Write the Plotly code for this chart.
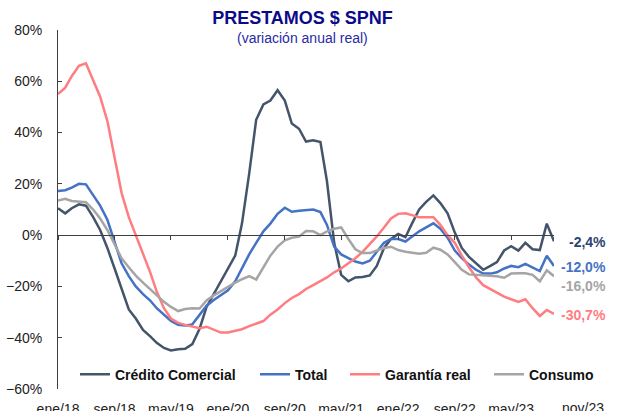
"""Prestamos $ SPNF: variacion anual real por tipo de credito."""

import pandas as pd
import plotly.graph_objects as go


WIDTH, HEIGHT = 623, 411
FONT = "Arial, Liberation Sans, sans-serif"
MARGIN = dict(l=58, r=69, t=30, b=22)

MONTHS = pd.date_range("2018-01-01", "2023-11-01", freq="MS")
TICK_LABELS = ["ene/18", "sep/18", "may/19", "ene/20", "sep/20",
               "may/21", "ene/22", "sep/22", "may/23"]
LAST_LABEL = "nov/23"

COMERCIAL = [10.5, 8.5, 10.5, 12, 11.5, 7, 2, -5, -13, -21,
             -29, -32.5, -37, -39.5, -42, -44, -45, -44.5, -44.3, -42.5,
             -36.5, -28, -23, -18, -13, -8, 4.5, 24, 45, 51,
             52.5, 56.5, 52.5, 43.5, 41.5, 36.5, 37, 36.3, 21, -3,
             -15.5, -18, -16.5, -16.3, -15.7, -12, -5, -1.5, 0.5, -0.8,
             4.5, 10, 13, 15.5, 12.5, 8.5, 1, -5, -8.5, -11,
             -13.5, -12, -10.5, -6, -4.3, -6, -3, -5.5, -5.8, 4.5,
             -2.4]
TOTAL = [17.2, 17.5, 18.5, 20, 19.8, 15.5, 11.5, 6, -3, -11,
         -16, -20, -23, -25.5, -28.5, -31, -33.5, -35, -35.2, -34.8,
         -31, -27.5, -25.3, -23.5, -21.5, -18, -13, -7.5, -3, 1.5,
         4.5, 8.3, 10.7, 9.1, 9.5, 9.8, 10, 9, 4, -4.5,
         -7.5, -9, -10.3, -11, -10, -6.5, -3, -1.5, -1.5, -2.5,
         -0.5, 1.5, 3, 4.6, 2.5, -1, -6, -9, -11.5, -13.5,
         -15, -15, -14.5, -13, -12, -12.5, -11.2, -12.5, -14, -8,
         -12.0]
GARANTIA = [55, 57.5, 62, 66, 67, 60, 54, 44.5, 29.5, 16.5,
            7, 0, -8, -14.5, -22, -28.5, -32.5, -34.2, -35, -35.8,
            -36.3, -35.7, -37, -38, -38, -37.3, -36.7, -35.5, -34.5, -33.5,
            -31, -29, -26.5, -24.5, -23, -21, -19.5, -18, -16.5, -14.5,
            -13, -11, -9, -6.5, -3.5, -0.5, 3, 6.5, 8.3, 8.5,
            7.8, 7, 7, 7, 4, 0, -3, -8, -12.5, -16.5,
            -19.5, -21, -22.5, -24, -25, -26, -25, -28.5, -31.5, -29.2,
            -30.7]
CONSUMO = [13.5, 14.2, 13.3, 13, 12.8, 10, 6.5, 2, -3.5, -9,
           -12.5, -15.8, -18.5, -21, -23.5, -26, -28, -29.6, -28.8, -28.5,
           -28.6, -25.5, -23.5, -21.8, -20, -18.5, -17.2, -16, -17.3, -12.5,
           -8, -4.5, -2, -1, -0.6, 1.6, 1.5, 0, 1.5, 2.5,
           3, -1.5, -5.5, -7, -7, -6, -5, -4.5, -5.8, -6.5,
           -7, -7.3, -6.9, -4.9, -5.7, -7.5, -10.5, -13.5, -15.3, -15.5,
           -15.7, -15.8, -16, -16.6, -15, -14.9, -14.9, -15.5, -18, -13.7,
           -16.0]

# name, values, line colour, end-label colour, end-label shift, legend left (px)
SERIES = [
    ("Crédito Comercial", COMERCIAL, "#44546A", "#2E4470", 0, 75),
    ("Total", TOTAL, "#4472C4", "#4472C4", 0, 255),
    ("Garantía real", GARANTIA, "#FF7C80", "#FF7C80", 0, 345),
    ("Consumo", CONSUMO, "#A5A5A5", "#A5A5A5", -9, 489),
]


def main():
    """Main driver."""
    plot_w = WIDTH - MARGIN["l"] - MARGIN["r"]
    plot_h = HEIGHT - MARGIN["t"] - MARGIN["b"]
    fig = go.Figure()
    legends = {}
    for k, (name, values, color, label_color, shift, left) in enumerate(SERIES):
        key = "legend" if k == 0 else f"legend{k + 1}"
        fig.add_trace(go.Scatter(
            x=MONTHS, y=values, name=f"<b>{name}</b>", mode="lines",
            line=dict(color=color, width=2.5), hoverinfo="skip", legend=key,
        ))
        legends[key] = dict(
            x=(left - MARGIN["l"]) / plot_w, y=0.04, xanchor="left",
            yanchor="middle", bgcolor="rgba(0,0,0,0)",
            font=dict(family=FONT, size=14, color="#111111"),
        )
        fig.add_annotation(
            x=MONTHS[-1], y=values[-1], xref="x", yref="y",
            text=f"<b>{values[-1]:.1f}%</b>".replace(".", ","),
            showarrow=False, xanchor="right", yanchor="middle",
            xshift=54, yshift=shift - 1,
            font=dict(family=FONT, size=14, color=label_color),
        )
    # carrier for the axis drawn through 0%
    fig.add_trace(go.Scatter(x=[MONTHS[0]], y=[0], xaxis="x2", mode="lines",
                             showlegend=False, hoverinfo="skip"))

    tickvals = list(MONTHS[::8])[:len(TICK_LABELS)]
    xrange = [MONTHS[0], MONTHS[-1]]
    fig.add_annotation(
        x=MONTHS[-1], y=0, xref="x", yref="paper", text=LAST_LABEL,
        showarrow=False, xanchor="center", yanchor="top", xshift=29, yshift=-9,
        font=dict(family=FONT, size=14, color="#222222"),
    )
    fig.add_annotation(
        x=(302.5 - MARGIN["l"]) / plot_w,
        y=1 - (37.5 - MARGIN["t"]) / plot_h, xref="paper", yref="paper",
        showarrow=False, text="(variación anual real)", yanchor="middle",
        font=dict(family=FONT, size=14, color="#2A2AA5"),
    )
    fig.update_layout(
        width=WIDTH, height=HEIGHT,
        margin=MARGIN,
        paper_bgcolor="white", plot_bgcolor="white",
        font=dict(family=FONT, size=14, color="#222222"),
        title=dict(text="<b>PRESTAMOS $ SPNF</b>", x=302.5 / WIDTH,
                   xanchor="center", y=1 - 18 / HEIGHT, yanchor="middle",
                   font=dict(family=FONT, size=18, color="#0B0B8A")),
        showlegend=True,
        **legends,
        xaxis=dict(type="date", range=xrange, tickvals=tickvals,
                   ticktext=TICK_LABELS, showgrid=False, showline=False,
                   zeroline=False, ticks="", ticklabelstandoff=10,
                   automargin=False),
        xaxis2=dict(type="date", range=xrange, overlaying="x", anchor="free",
                    position=60 / 140, side="bottom", tickvals=tickvals,
                    showticklabels=False, ticks="outside", ticklen=4,
                    tickcolor="#404040", showline=True, linecolor="#404040",
                    linewidth=1, showgrid=False, zeroline=False,
                    automargin=False),
        yaxis=dict(range=[-60, 80], dtick=20, ticksuffix="%", showgrid=False,
                   zeroline=False, showline=True, linecolor="#404040",
                   linewidth=1, ticks="inside", ticklen=4, tickcolor="#404040",
                   ticklabelstandoff=12, automargin=False),
    )
    fig.write_html("out.html", config={"displayModeBar": False},
                   post_script="document.body.style.margin = '0';")


if __name__ == "__main__":
    main()
